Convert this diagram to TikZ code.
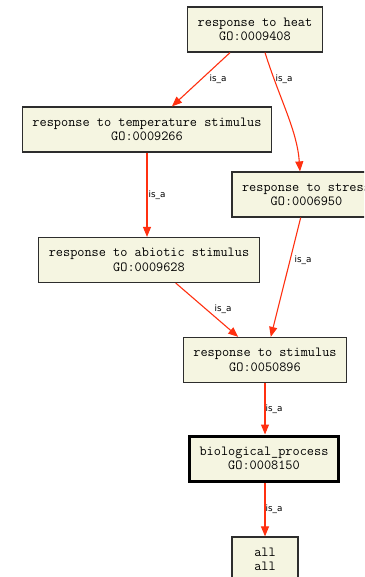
\documentclass[tikz,border=0pt]{standalone}
\usepackage{fontspec}
\newfontfamily\lblfont{DejaVu Sans}
\usetikzlibrary{arrows.meta}
\definecolor{boxfill}{RGB}{245,245,225}
\definecolor{boxline}{RGB}{45,45,45}
\definecolor{edgered}{RGB}{255,48,16}
\begin{document}
\begin{tikzpicture}[x=1pt,y=-1pt,
  term/.style={draw=boxline, fill=boxfill, line width=1.2pt, minimum height=45pt,
    inner xsep=10pt, inner ysep=2pt, align=center,
    font=\ttfamily\fontsize{13.9}{14.5}\selectfont},
  rootterm/.style={term, draw=black, line width=3pt},
  isa/.style={draw=edgered, line width=1.1pt, -{Triangle[length=10pt,width=8pt]}},
  lbl/.style={font=\lblfont\fontsize{8.8}{10}\selectfont, inner sep=0pt}]
\useasboundingbox (0,0) rectangle (364,577);
\clip (0,0) rectangle (364,577);

\node[term] (heat) at (255,29.5) {response to heat\\GO:0009408};
\node[term] (temp) at (147,129.5) {response to temperature stimulus\\GO:0009266};
\node[term] (stress) at (306.5,194.5) {response to stress\\GO:0006950};
\node[term] (abiotic) at (149,260) {response to abiotic stimulus\\GO:0009628};
\node[term] (stimulus) at (265,360) {response to stimulus\\GO:0050896};
\node[rootterm] (bio) at (264,458.5) {biological\_process\\GO:0008150};
\node[term, minimum width=66pt] (all) at (265,559.5) {all\\all};

\draw[isa] (heat) -- (temp);
\draw[isa] ([xshift=10pt]heat.south) .. controls (280,100) and (297,130) .. ([xshift=-6.5pt]stress.north);
\draw[isa] (temp.south) -- (temp.south |- abiotic.north);
\draw[isa] (stress) -- (stimulus);
\draw[isa] (abiotic) -- (stimulus);
\draw[isa] (stimulus.south) -- (stimulus.south |- bio.north);
\draw[isa] (stimulus.south |- bio.south) -- (stimulus.south |- all.north);

\node[lbl] (l1) at (218,79) {is\_a};
\node[lbl] (l2) at (284,79) {is\_a};
\node[lbl] (l3) at (157,195) {is\_a};
\node[lbl] (l4) at (303,260) {is\_a};
\node[lbl] (l5) at (223,309) {is\_a};
\node[lbl] (l6) at (274,409) {is\_a};
\node[lbl] (l7) at (274,509) {is\_a};
\end{tikzpicture}
\end{document}
